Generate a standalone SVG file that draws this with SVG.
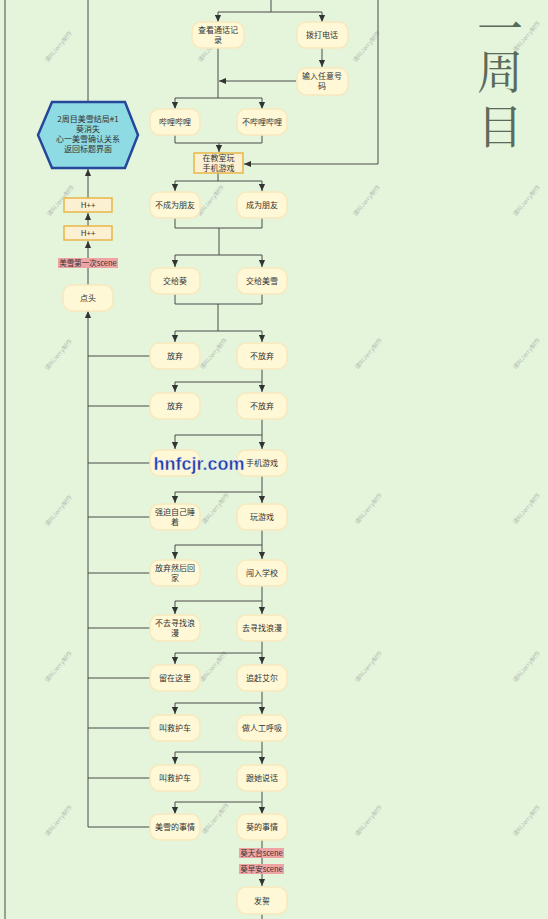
<svg xmlns="http://www.w3.org/2000/svg" width="548" height="919" viewBox="0 0 548 919">
<style>
.bg{fill:#e4f5dc}
.n{fill:#fff8d6;stroke:#f7e8bd;stroke-width:1.5}
.b{fill:#fbf0d2;stroke:#e8b64a;stroke-width:1.5}
.t{font-family:"Noto Sans CJK SC","Noto Sans",sans-serif;font-size:8px;fill:#333;text-anchor:middle}
.c{fill:none;stroke:#4a4a4a;stroke-width:1}
.lb{fill:#f0a3a3}
.lt{font-family:"Noto Sans CJK SC","Noto Sans",sans-serif;font-size:7.5px;fill:#333;text-anchor:middle}
.wm{font-family:"Noto Sans CJK SC","Noto Sans",sans-serif;font-size:6px;fill:#b4bcb2;text-anchor:middle}
.big{font-family:"Noto Serif CJK SC","Noto Sans CJK SC",serif;font-size:46px;fill:#5b6b5b;text-anchor:middle}
</style>
<defs>
<marker id="a" viewBox="0 0 8 8" refX="8" refY="4" markerWidth="7" markerHeight="7" markerUnits="userSpaceOnUse" orient="auto"><path d="M0,0.5 L8,4 L0,7.5 z" fill="#333"/></marker>
</defs>
<rect class="bg" width="548" height="919"/>

<g id="watermarks">
<text class="wm" transform="translate(60,48) rotate(-50)">请叫Jerry制作</text>
<text class="wm" transform="translate(213,48) rotate(-50)">请叫Jerry制作</text>
<text class="wm" transform="translate(368,48) rotate(-50)">请叫Jerry制作</text>
<text class="wm" transform="translate(528,38) rotate(-50)">请叫Jerry制作</text>
<text class="wm" transform="translate(62,202) rotate(-50)">请叫Jerry制作</text>
<text class="wm" transform="translate(212,202) rotate(-50)">请叫Jerry制作</text>
<text class="wm" transform="translate(368,202) rotate(-50)">请叫Jerry制作</text>
<text class="wm" transform="translate(528,202) rotate(-50)">请叫Jerry制作</text>
<text class="wm" transform="translate(60,356) rotate(-50)">请叫Jerry制作</text>
<text class="wm" transform="translate(215,355) rotate(-50)">请叫Jerry制作</text>
<text class="wm" transform="translate(370,355) rotate(-50)">请叫Jerry制作</text>
<text class="wm" transform="translate(528,355) rotate(-50)">请叫Jerry制作</text>
<text class="wm" transform="translate(60,512) rotate(-50)">请叫Jerry制作</text>
<text class="wm" transform="translate(217,510) rotate(-50)">请叫Jerry制作</text>
<text class="wm" transform="translate(370,510) rotate(-50)">请叫Jerry制作</text>
<text class="wm" transform="translate(528,510) rotate(-50)">请叫Jerry制作</text>
<text class="wm" transform="translate(60,668) rotate(-50)">请叫Jerry制作</text>
<text class="wm" transform="translate(215,668) rotate(-50)">请叫Jerry制作</text>
<text class="wm" transform="translate(370,668) rotate(-50)">请叫Jerry制作</text>
<text class="wm" transform="translate(528,668) rotate(-50)">请叫Jerry制作</text>
<text class="wm" transform="translate(60,822) rotate(-50)">请叫Jerry制作</text>
<text class="wm" transform="translate(217,820) rotate(-50)">请叫Jerry制作</text>
<text class="wm" transform="translate(370,822) rotate(-50)">请叫Jerry制作</text>
<text class="wm" transform="translate(528,822) rotate(-50)">请叫Jerry制作</text>
</g>

<g id="title">
<text class="big" x="500" y="45">一</text>
<text class="big" x="500" y="88">周</text>
<text class="big" x="500" y="143">目</text>
</g>

<g id="connectors">
<path class="c" d="M5,0 V919"/>
<path class="c" d="M271,0 V12 M218,12 H322"/>
<path class="c" d="M218,12 V22" marker-end="url(#a)"/>
<path class="c" d="M322,12 V22" marker-end="url(#a)"/>
<path class="c" d="M322,48 V67" marker-end="url(#a)"/>
<path class="c" d="M296,81 H219" marker-end="url(#a)"/>
<path class="c" d="M218,48 V98 M175,98 H262"/>
<path class="c" d="M175,98 V109" marker-end="url(#a)"/>
<path class="c" d="M262,98 V109" marker-end="url(#a)"/>
<path class="c" d="M175,135 V143 H262 V135"/>
<path class="c" d="M219,143 V152" marker-end="url(#a)"/>
<path class="c" d="M378,0 V164 H244" marker-end="url(#a)"/>
<path class="c" d="M218,173 V181 M175,181 H262"/>
<path class="c" d="M175,181 V191" marker-end="url(#a)"/>
<path class="c" d="M262,181 V191" marker-end="url(#a)"/>
<path class="c" d="M175,218 V228 H262 V218 M219,228 V255 M175,255 H262"/>
<path class="c" d="M175,255 V267" marker-end="url(#a)"/>
<path class="c" d="M262,255 V267" marker-end="url(#a)"/>
<path class="c" d="M175,294 V304 H262 V294 M218,304 V331 M175,331 H262"/>
<path class="c" d="M175,331 V342" marker-end="url(#a)"/>
<path class="c" d="M262,331 V342" marker-end="url(#a)"/>
<path class="c" d="M262,369 V392" marker-end="url(#a)"/>
<path class="c" d="M262,382 H175 V392" marker-end="url(#a)"/>
<path class="c" d="M262,419 V449" marker-end="url(#a)"/>
<path class="c" d="M262,435 H175 V449" marker-end="url(#a)"/>
<path class="c" d="M262,476 V503" marker-end="url(#a)"/>
<path class="c" d="M262,492 H175 V503" marker-end="url(#a)"/>
<path class="c" d="M262,530 V559" marker-end="url(#a)"/>
<path class="c" d="M262,545 H175 V559" marker-end="url(#a)"/>
<path class="c" d="M262,586 V614" marker-end="url(#a)"/>
<path class="c" d="M262,601 H175 V614" marker-end="url(#a)"/>
<path class="c" d="M262,641 V664" marker-end="url(#a)"/>
<path class="c" d="M262,653 H175 V664" marker-end="url(#a)"/>
<path class="c" d="M262,691 V714" marker-end="url(#a)"/>
<path class="c" d="M262,703 H175 V714" marker-end="url(#a)"/>
<path class="c" d="M262,741 V764" marker-end="url(#a)"/>
<path class="c" d="M262,752 H175 V764" marker-end="url(#a)"/>
<path class="c" d="M262,791 V814" marker-end="url(#a)"/>
<path class="c" d="M262,802 H175 V814" marker-end="url(#a)"/>
<path class="c" d="M262,840 V886" marker-end="url(#a)"/>
<path class="c" d="M262,914 V919"/>
<path class="c" d="M88,0 V102"/>
<path class="c" d="M88,198 V169" marker-end="url(#a)"/>
<path class="c" d="M88,226 V213" marker-end="url(#a)"/>
<path class="c" d="M88,285 V241" marker-end="url(#a)"/>
<path class="c" d="M88,827 V311" marker-end="url(#a)"/>
<path class="c" d="M88,356 H150 M88,406 H150 M88,463 H150 M88,517 H150 M88,573 H150 M88,628 H150 M88,678 H150 M88,728 H150 M88,778 H150 M88,827 H150"/>
</g>

<g id="labels">
<rect class="lb" x="58" y="258" width="60" height="10"/>
<text class="lt" x="88" y="266">美雪第一次scene</text>
<rect class="lb" x="239" y="848" width="45" height="10"/>
<text class="lt" x="261.5" y="856">葵天台scene</text>
<rect class="lb" x="239" y="864" width="45" height="10"/>
<text class="lt" x="261.5" y="872">葵早安scene</text>
</g>

<g id="n-hex">
<polygon points="52,102 125,102 138,135 125,168 52,168 38,135" fill="#8fdbe4" stroke="#27479a" stroke-width="2.5"/>
<text class="t" x="88" y="122">2周目美雪结局#1</text>
<text class="t" x="88" y="132">葵消失</text>
<text class="t" x="88" y="142">心一美雪确认关系</text>
<text class="t" x="88" y="152">返回标题界面</text>
</g>
<g id="n-h1"><rect class="b" x="64" y="198" width="48" height="14"/><text class="t" x="88" y="208">H++</text></g>
<g id="n-h2"><rect class="b" x="64" y="226" width="48" height="14"/><text class="t" x="88" y="236">H++</text></g>
<g id="n-nod"><rect class="n" x="63" y="285" width="50" height="26" rx="9"/><text class="t" x="88" y="301">点头</text></g>

<g id="n-chakan"><rect class="n" x="192" y="22" width="52" height="26" rx="9"/><text class="t" x="218" y="33">查看通话记</text><text class="t" x="218" y="43">录</text></g>
<g id="n-boda"><rect class="n" x="297" y="22" width="51" height="26" rx="9"/><text class="t" x="322" y="38">拨打电话</text></g>
<g id="n-shuru"><rect class="n" x="297" y="68" width="51" height="27" rx="9"/><text class="t" x="322" y="79">输入任意号</text><text class="t" x="322" y="89">码</text></g>
<g id="n-bili"><rect class="n" x="150" y="109" width="50" height="26" rx="9"/><text class="t" x="175" y="125">哔哩哔哩</text></g>
<g id="n-bubili"><rect class="n" x="237" y="109" width="50" height="26" rx="9"/><text class="t" x="262" y="125">不哔哩哔哩</text></g>
<g id="n-jiaoshi"><rect class="b" x="194" y="153" width="49" height="20"/><text class="t" x="218.5" y="161" font-size="7.5">在教室玩</text><text class="t" x="218.5" y="170.5" font-size="7.5">手机游戏</text></g>
<g id="n-bucheng"><rect class="n" x="150" y="192" width="50" height="26" rx="9"/><text class="t" x="175" y="208">不成为朋友</text></g>
<g id="n-cheng"><rect class="n" x="237" y="192" width="50" height="26" rx="9"/><text class="t" x="262" y="208">成为朋友</text></g>
<g id="n-jk"><rect class="n" x="150" y="268" width="50" height="26" rx="9"/><text class="t" x="175" y="284">交给葵</text></g>
<g id="n-jm"><rect class="n" x="237" y="268" width="50" height="26" rx="9"/><text class="t" x="262" y="284">交给美雪</text></g>
<g id="n-fq1"><rect class="n" x="150" y="343" width="50" height="26" rx="9"/><text class="t" x="175" y="359">放弃</text></g>
<g id="n-bfq1"><rect class="n" x="237" y="343" width="50" height="26" rx="9"/><text class="t" x="262" y="359">不放弃</text></g>
<g id="n-fq2"><rect class="n" x="150" y="393" width="50" height="26" rx="9"/><text class="t" x="175" y="409">放弃</text></g>
<g id="n-bfq2"><rect class="n" x="237" y="393" width="50" height="26" rx="9"/><text class="t" x="262" y="409">不放弃</text></g>
<g id="n-hidden"><rect class="n" x="150" y="450" width="50" height="26" rx="9"/></g>
<g id="n-shouji"><rect class="n" x="237" y="450" width="50" height="26" rx="9"/><text class="t" x="262" y="466">手机游戏</text></g>
<g id="n-qiangpo"><rect class="n" x="150" y="504" width="50" height="26" rx="9"/><text class="t" x="175" y="515">强迫自己睡</text><text class="t" x="175" y="525">着</text></g>
<g id="n-wan"><rect class="n" x="237" y="504" width="50" height="26" rx="9"/><text class="t" x="262" y="520">玩游戏</text></g>
<g id="n-huijia"><rect class="n" x="150" y="560" width="50" height="26" rx="9"/><text class="t" x="175" y="571">放弃然后回</text><text class="t" x="175" y="581">家</text></g>
<g id="n-chuang"><rect class="n" x="237" y="560" width="50" height="26" rx="9"/><text class="t" x="262" y="576">闯入学校</text></g>
<g id="n-buqu"><rect class="n" x="150" y="615" width="50" height="26" rx="9"/><text class="t" x="175" y="626">不去寻找浪</text><text class="t" x="175" y="636">漫</text></g>
<g id="n-qu"><rect class="n" x="237" y="615" width="50" height="26" rx="9"/><text class="t" x="262" y="631">去寻找浪漫</text></g>
<g id="n-liu"><rect class="n" x="150" y="665" width="50" height="26" rx="9"/><text class="t" x="175" y="681">留在这里</text></g>
<g id="n-zhui"><rect class="n" x="237" y="665" width="50" height="26" rx="9"/><text class="t" x="262" y="681">追赶艾尔</text></g>
<g id="n-jiu1"><rect class="n" x="150" y="715" width="50" height="26" rx="9"/><text class="t" x="175" y="731">叫救护车</text></g>
<g id="n-huxi"><rect class="n" x="237" y="715" width="50" height="26" rx="9"/><text class="t" x="262" y="731">做人工呼吸</text></g>
<g id="n-jiu2"><rect class="n" x="150" y="765" width="50" height="26" rx="9"/><text class="t" x="175" y="781">叫救护车</text></g>
<g id="n-shuohua"><rect class="n" x="237" y="765" width="50" height="26" rx="9"/><text class="t" x="262" y="781">跟她说话</text></g>
<g id="n-meixue"><rect class="n" x="150" y="814" width="50" height="26" rx="9"/><text class="t" x="175" y="830">美雪的事情</text></g>
<g id="n-kui"><rect class="n" x="237" y="814" width="50" height="26" rx="9"/><text class="t" x="262" y="830">葵的事情</text></g>
<g id="n-fashi"><rect class="n" x="237" y="887" width="50" height="27" rx="9"/><text class="t" x="262" y="904">发誓</text></g>

<text x="199" y="470" font-family="Liberation Sans, Arial, sans-serif" font-size="18" font-weight="bold" fill="#1c3aa6" text-anchor="middle" stroke="#e8eefc" stroke-width="0.4">hnfcjr.com</text>
</svg>
